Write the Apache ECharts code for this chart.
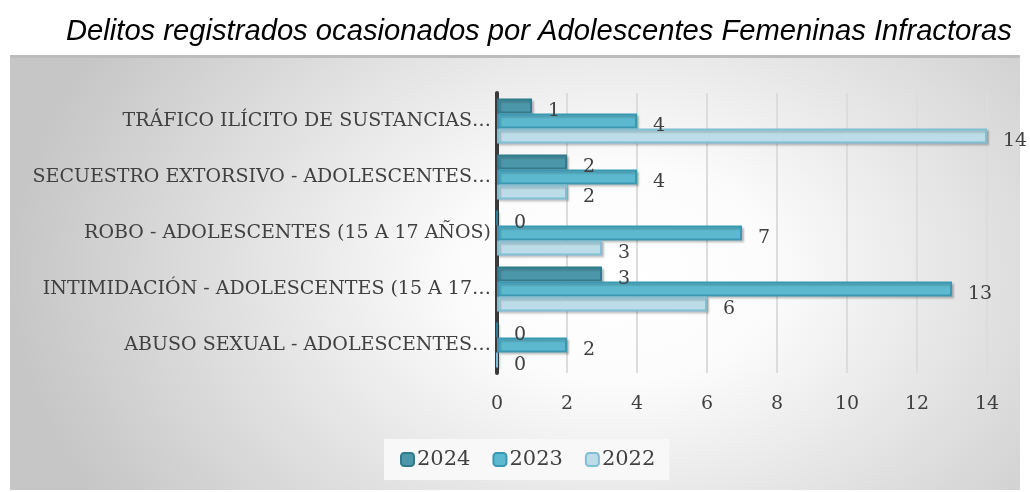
<!DOCTYPE html>
<html>
<head>
<meta charset="utf-8">
<script src="https://cdn.jsdelivr.net/npm/echarts@6/dist/echarts.min.js"></script>
<style>
  html, body { margin: 0; padding: 0; background: #fff; }
  #chart { width: 1030px; height: 492px; }
</style>
</head>
<body>
<div id="chart"></div>
<script>
  var categories = [
    'ABUSO SEXUAL - ADOLESCENTES…',
    'INTIMIDACIÓN - ADOLESCENTES (15 A 17…',
    'ROBO - ADOLESCENTES (15 A 17 AÑOS)',
    'SECUESTRO EXTORSIVO - ADOLESCENTES…',
    'TRÁFICO ILÍCITO DE SUSTANCIAS…'
  ];
  var years = ['2024', '2023', '2022'];
  var values2024 = [0, 3, 0, 2, 1];
  var values2023 = [2, 13, 7, 4, 4];
  var values2022 = [0, 6, 3, 2, 14];
  var xTicks = [0, 2, 4, 6, 8, 10, 12, 14];

  var serif = '"DejaVu Serif", "Liberation Serif", serif';

  function makeSeries(name, data, fill, border) {
    return {
      name: name,
      type: 'bar',
      data: data,
      barGap: '0%',
      barCategoryGap: '20%',
      itemStyle: {
        color: fill,
        borderColor: border,
        borderWidth: 2,
        shadowColor: 'rgba(0,0,0,0.2)',
        shadowOffsetX: 2,
        shadowOffsetY: 2,
        shadowBlur: 2
      },
      label: {
        show: true,
        position: 'right',
        distance: 16,
        offset: [0, 5],
        fontFamily: serif,
        fontSize: 19,
        color: '#404040'
      }
    };
  }

  // plot background: elliptical grey-to-white gradient (square rect stretched sideways)
  var bgStretch = 1.4;

  var chart = echarts.init(document.getElementById('chart'));
  chart.setOption({
    animation: false,
    title: {
      text: 'Delitos registrados ocasionados por Adolescentes Femeninas Infractoras',
      left: 61,
      top: 12,
      textStyle: {
        fontFamily: '"Liberation Sans", Arial, sans-serif',
        fontStyle: 'italic',
        fontWeight: 'normal',
        fontSize: 29.2,
        color: '#000'
      }
    },
    graphic: [{
      type: 'rect',
      z: -10,
      x: 10,
      y: 57,
      scaleX: bgStretch,
      shape: { x: 0, y: 0, width: 1010 / bgStretch, height: 433 },
      style: {
        fill: {
          type: 'radial', x: 0.6, y: 0.5, r: 1.0,
          colorStops: [
            { offset: 0, color: '#ffffff' },
            { offset: 0.25, color: '#fcfcfc' },
            { offset: 1, color: '#c6c6c6' }
          ]
        }
      }
    }, {
      type: 'rect',
      z: -9,
      shape: { x: 10, y: 55, width: 1010, height: 3 },
      style: { fill: '#bcbcbc' }
    }],
    legend: {
      data: years,
      left: 384,
      top: 439,
      padding: [10, 14, 10, 16],
      backgroundColor: '#f8f8f8',
      itemWidth: 13,
      itemHeight: 13,
      itemGap: 22,
      textStyle: { fontFamily: serif, fontSize: 21, color: '#404040', padding: [0, 0, 0, -2] }
    },
    grid: { left: 497, right: 43, top: 93, bottom: 119 },
    xAxis: {
      type: 'value',
      min: 0,
      max: 14,
      interval: 2,
      axisLine: { show: false },
      axisTick: { show: false },
      axisLabel: {
        fontFamily: serif,
        fontSize: 19,
        color: '#404040',
        margin: 22,
        formatter: function (v) { return xTicks.indexOf(v) >= 0 ? String(v) : ''; }
      },
      splitLine: { show: true, lineStyle: { color: '#dcdcdc', width: 2 } }
    },
    yAxis: {
      type: 'category',
      data: categories,
      axisLine: { show: true, lineStyle: { color: '#3a3a3a', width: 4 } },
      axisTick: { show: false },
      axisLabel: {
        fontFamily: serif,
        fontSize: 19,
        color: '#404040',
        margin: 6
      }
    },
    series: [
      makeSeries('2024', values2024, '#4d97aa', '#2f7a8c'),
      makeSeries('2023', values2023, '#5db9d0', '#3a98b2'),
      makeSeries('2022', values2022, '#bcdde8', '#7fbfd4')
    ]
  });
</script>
</body>
</html>
